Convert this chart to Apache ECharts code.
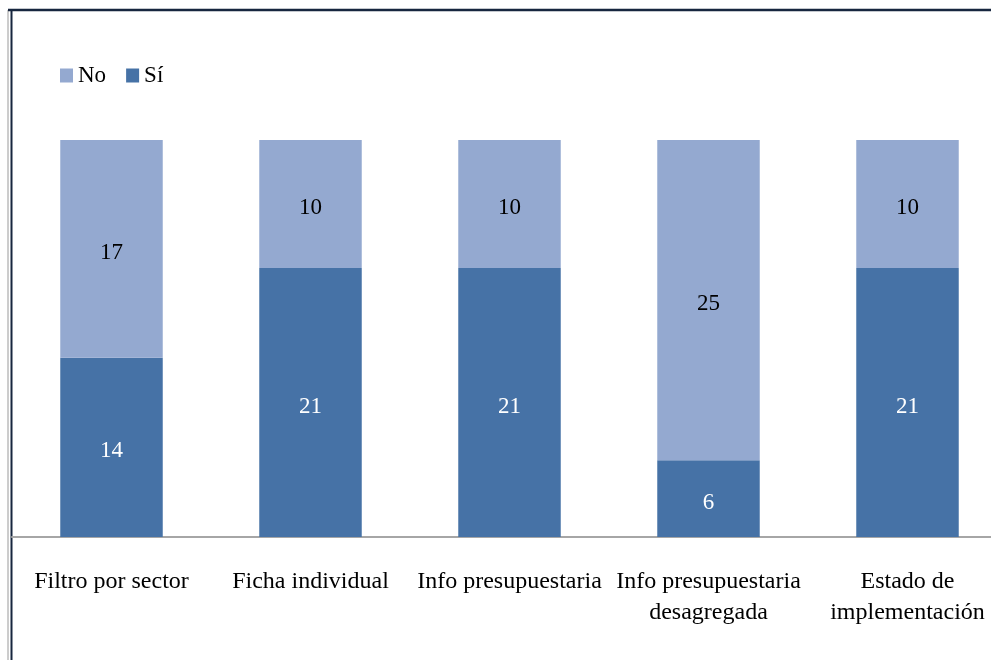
<!DOCTYPE html>
<html>
<head>
<meta charset="utf-8">
<script src="https://cdn.jsdelivr.net/npm/echarts@6/dist/echarts.min.js"></script>
<style>
html,body{margin:0;padding:0;background:#fff;}
#chart{width:991px;height:660px;}
</style>
</head>
<body>
<div id="chart"></div>
<script>
const categories = ['Filtro por sector', 'Ficha individual', 'Info presupuestaria', 'Info presupuestaria\ndesagregada', 'Estado de\nimplementación'];
const siValues = [14, 21, 21, 6, 21];
const noValues = [17, 10, 10, 25, 10];
const seriesNames = ['No', 'Sí'];

const FONT = '"Liberation Serif", serif';
const chart = echarts.init(document.getElementById('chart'));
chart.setOption({
  animation: false,
  backgroundColor: '#fff',
  textStyle: { fontFamily: FONT },
  legend: {
    left: 60, top: 64, padding: 0,
    itemWidth: 13, itemHeight: 14, itemGap: 20,
    icon: 'rect',
    data: seriesNames,
    textStyle: { fontFamily: FONT, fontSize: 23, color: '#000' }
  },
  grid: { left: 12, width: 995, top: 140, bottom: 123, outerBoundsMode: 'none', containLabel: false },
  xAxis: {
    type: 'category',
    data: categories,
    axisLine: { show: true, lineStyle: { color: '#a6a6a6', width: 2 } },
    axisTick: { show: false },
    axisLabel: { interval: 0, margin: 29, fontFamily: FONT, fontSize: 24, color: '#000', lineHeight: 31 }
  },
  yAxis: { type: 'value', min: 0, max: 31, show: false, splitLine: { show: false } },
  series: [
    {
      name: 'Sí', type: 'bar', stack: 'total', data: siValues, barWidth: '51.5%',
      itemStyle: { color: '#4672a6' },
      label: { show: true, position: 'inside', offset: [0, 4], color: '#fff', fontFamily: FONT, fontSize: 23 }
    },
    {
      name: 'No', type: 'bar', stack: 'total', data: noValues, barWidth: '51.5%',
      itemStyle: { color: '#94a9d0' },
      label: { show: true, position: 'inside', offset: [0, 4], color: '#000', fontFamily: FONT, fontSize: 23 }
    }
  ],
  graphic: [
    { type: 'line', shape: { x1: 8, y1: 10, x2: 8, y2: 660 }, style: { stroke: '#9a9a9a', lineWidth: 1 } },
    { type: 'line', shape: { x1: 11.5, y1: 10, x2: 11.5, y2: 660 }, style: { stroke: '#17263f', lineWidth: 2 } },
    { type: 'line', shape: { x1: 8, y1: 10, x2: 991, y2: 10 }, style: { stroke: '#17263f', lineWidth: 2.5 } }
  ]
});
</script>
</body>
</html>
